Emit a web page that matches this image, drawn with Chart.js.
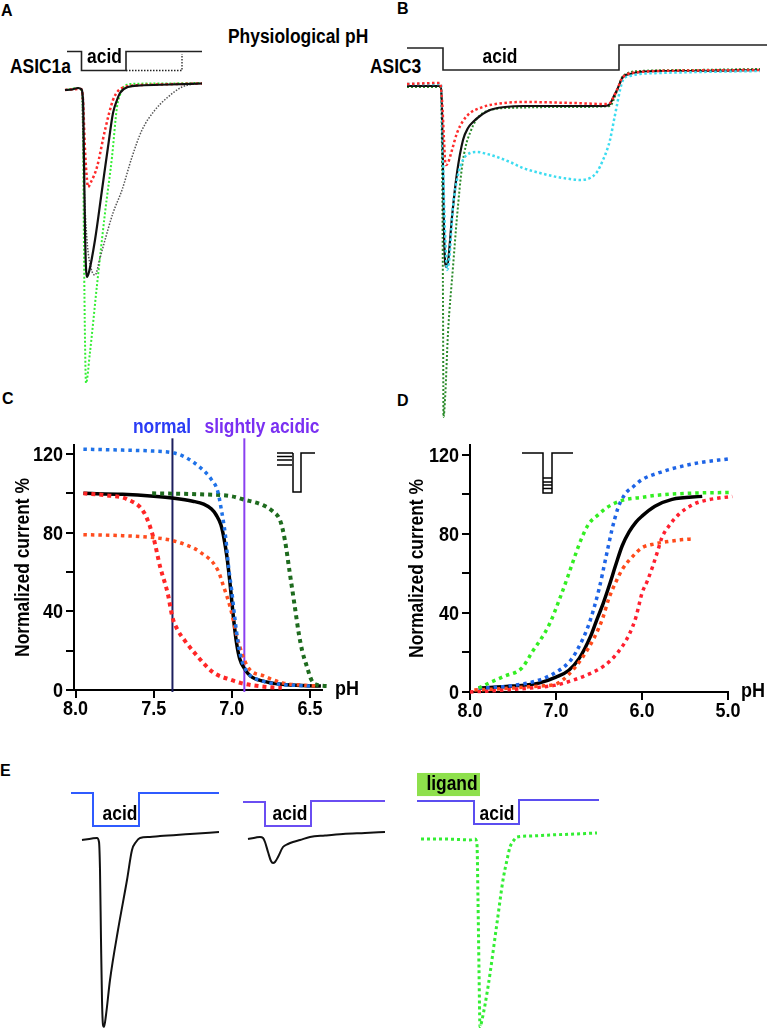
<!DOCTYPE html>
<html>
<head>
<meta charset="utf-8">
<script src="https://cdn.jsdelivr.net/npm/chart.js@4.4.1/dist/chart.umd.min.js"></script>
<style>
  body { margin: 0; background: #fff; width: 767px; height: 1028px; position: relative; overflow: hidden; }
  canvas { position: absolute; }
  .t { position: absolute; color: #000; white-space: nowrap; font-family: "Liberation Sans", Arial, sans-serif;
       font-weight: bold; line-height: 1; transform-origin: 0 0; }
</style>
</head>
<body>
<div class="t" style="left:1px;top:3px;font-size:16px">A</div>
<div class="t" style="left:397px;top:1px;font-size:16px">B</div>
<div class="t" style="left:2px;top:391px;font-size:16px">C</div>
<div class="t" style="left:397px;top:393px;font-size:16px">D</div>
<div class="t" style="left:0px;top:763px;font-size:16px">E</div>
<div class="t" style="left:228px;top:26px;font-size:20px;transform:scaleX(0.87)">Physiological pH</div>
<div class="t" style="left:10px;top:56px;font-size:20px;transform:scaleX(0.87)">ASIC1a</div>
<div class="t" style="left:370px;top:56px;font-size:20px;transform:scaleX(0.87)">ASIC3</div>

<canvas id="cA"></canvas>
<canvas id="cB"></canvas>
<canvas id="cC"></canvas>
<canvas id="cD"></canvas>
<canvas id="cE1"></canvas>
<canvas id="cE2"></canvas>
<canvas id="cE3"></canvas>

<script>
// ---------- A: ASIC1a traces (time s, current nA, stimulus pH) ----------
const aStimT = [0.7, 2.15, 2.15, 6.6, 6.6, 14.2];
const aStimPH = [7.4, 7.4, 6.0, 6.0, 7.4, 7.4];
const aStimDotT = [6.6, 12.2, 12.2];
const aStimDotPH = [6.0, 6.0, 7.22];
const aBlackT = [0.5, 1.2, 1.8, 2.1, 2.3, 2.4, 2.5, 2.6, 2.7, 2.9, 3.5, 4.2, 4.8, 5.3, 5.7, 6.0, 6.8, 8.0, 11.0, 14.2];
const aBlackI = [-0.3, -0.25, -0.1, -0.2, -1.3, -7.3, -14.3, -18.1, -19.0, -18.5, -15.3, -10.3, -6.0, -2.6, -1.3, -0.6, 0, 0.15, 0.25, 0.35];
const aRedT = [0.5, 2.1, 2.3, 2.5, 2.7, 2.8, 3.1, 3.7, 4.5, 5.3, 5.8, 6.2, 7.0, 10.0, 14.2];
const aRedI = [-0.3, -0.2, -1.3, -6.3, -9.3, -10.0, -9.5, -8.0, -4.3, -1.3, -0.4, -0.1, 0.1, 0.25, 0.35];
const aGreenT = [0.5, 1.8, 2.2, 2.3, 2.4, 2.5, 2.6, 3.0, 3.7, 4.5, 5.2, 5.7, 6.0, 6.3, 7.0, 10.0, 14.2];
const aGreenI = [-0.3, -0.1, -0.5, -4.3, -16.3, -25.3, -29.6, -26.5, -19.8, -12.6, -7.0, -2.0, -0.8, -0.1, 0.3, 0.35, 0.4];
const aGrayT = [2.2, 2.4, 2.7, 3.1, 3.5, 4.0, 4.5, 5.3, 6.2, 7.2, 8.2, 9.5, 10.8, 12.2, 13.5, 14.2];
const aGrayI = [-0.5, -9.3, -15.3, -18.1, -18.8, -17.1, -15.3, -12.6, -10.3, -7.0, -4.3, -2.3, -1.0, 0, 0.3, 0.35];

// ---------- B: ASIC3 traces ----------
const bStimT = [1.2, 4.8, 4.8, 22.4, 22.4, 37.2];
const bStimPH = [7.4, 7.4, 6.0, 6.0, 7.59, 7.59];
const bBlackT = [1.2, 4.6, 4.7, 4.8, 4.9, 5.0, 5.1, 5.3, 5.7, 6.2, 6.8, 7.3, 7.8, 8.5, 9.5, 11.0, 12.8, 17.8, 21.0, 21.5, 21.8, 22.2, 22.8, 23.5, 24.5, 26.5, 29.5, 36.5];
const bBlackI = [0, 0, -2.4, -8.4, -14.4, -17.4, -18.1, -17.6, -13.1, -8.7, -5.4, -4.2, -3.6, -3.0, -2.4, -2.1, -2.0, -2.0, -2.0, -1.8, -1.2, -0.4, 0.9, 1.2, 1.4, 1.5, 1.5, 1.6];
const bRedT = [1.2, 4.5, 4.7, 4.9, 5.0, 5.1, 5.3, 5.7, 6.2, 6.8, 7.5, 8.5, 9.5, 12.8, 17.8, 21.0, 21.5, 21.8, 22.2, 22.8, 24.5, 29.5, 36.5];
const bRedI = [0.2, 0.3, -1.4, -5.4, -7.4, -7.9, -7.7, -6.4, -4.7, -3.5, -2.7, -2.2, -1.9, -1.6, -1.7, -1.8, -1.7, -1.2, -0.4, 0.9, 1.4, 1.55, 1.6];
const bGreenT = [1.2, 4.6, 4.7, 4.8, 4.85, 5.0, 5.3, 5.8, 6.2, 6.7, 7.1, 7.5, 8.1, 8.8, 10.0, 11.2, 17.8, 21.5, 21.9, 22.3, 22.8, 24.5, 29.5, 36.5];
const bGreenI = [-0.1, -0.1, -6.4, -21.4, -33.1, -31.4, -24.7, -18.1, -13.1, -8.1, -5.9, -4.7, -3.4, -2.7, -2.3, -2.2, -2.1, -2.0, -1.3, -0.2, 1.0, 1.5, 1.6, 1.7];
const bCyanT = [1.2, 4.6, 4.7, 4.9, 5.1, 5.2, 5.4, 5.8, 6.3, 6.8, 7.5, 8.2, 9.2, 10.2, 11.5, 12.8, 14.5, 16.2, 17.5, 18.5, 19.5, 20.2, 20.8, 21.2, 21.5, 21.9, 22.2, 22.5, 22.8, 23.5, 24.5, 26.5, 30.5, 36.5];
const bCyanI = [0.2, 0.2, -2.4, -11.4, -16.9, -18.4, -17.6, -12.1, -8.9, -7.4, -6.7, -6.6, -6.8, -7.1, -7.6, -8.2, -8.7, -9.1, -9.3, -9.4, -9.2, -8.6, -7.4, -6.4, -5.4, -3.4, -1.9, -0.4, 0.6, 1.0, 1.2, 1.3, 1.4, 1.5];

// ---------- C: steady-state desensitization (pH, % current) ----------
const cTickX = [8.0, 7.5, 7.0, 6.5];
const cTickY = [0, 20, 40, 60, 80, 100, 120];
const cLabelY = [0, 40, 80, 120];
const cNormalPH = 7.38;
const cAcidicPH = 6.92;
const cBluePH = [7.95, 7.7, 7.5, 7.37, 7.3, 7.2, 7.13, 7.09, 7.07, 7.04, 7.02, 7.0, 6.98, 6.96, 6.94, 6.9, 6.8, 6.7, 6.5];
const cBlue = [122.5, 122, 121.5, 120.5, 118.5, 113, 107, 101, 93, 78, 62, 50, 36, 24, 16, 9, 4.5, 3, 2];
const cBlackPH = [7.95, 7.7, 7.5, 7.37, 7.25, 7.18, 7.13, 7.1, 7.07, 7.05, 7.03, 7.01, 6.99, 6.97, 6.95, 6.92, 6.88, 6.8, 6.7, 6.55, 6.43];
const cBlack = [100, 99.5, 98.5, 97.5, 96, 94.5, 92, 89, 84, 77, 67, 53, 37, 24, 16, 11, 7, 4.5, 3, 2.3, 2];
const cGreenPH = [7.51, 7.2, 7.0, 6.93, 6.8, 6.74, 6.69, 6.66, 6.63, 6.6, 6.57, 6.55, 6.52, 6.49, 6.45, 6.39];
const cGreen = [100, 99.5, 98.5, 97, 94, 91, 86, 76, 60, 44, 28, 20, 12, 5, 2.5, 2];
const cRedPH = [7.95, 7.8, 7.67, 7.56, 7.5, 7.46, 7.41, 7.38, 7.35, 7.3, 7.24, 7.12, 7.0, 6.94, 6.77, 6.68];
const cRed = [100, 99, 97, 90, 77, 63, 49, 37, 31, 25, 19, 9, 5, 3.5, 1.5, 1.2];
const cOrangePH = [7.95, 7.7, 7.5, 7.38, 7.3, 7.2, 7.09, 7.05, 7.01, 6.96, 6.9, 6.79, 6.67, 6.55, 6.45];
const cOrange = [79, 78.5, 77.5, 76, 74, 70, 61, 52, 42, 25, 12, 7, 3.5, 2.5, 2];

// ---------- D: activation (pH, % current) ----------
const dTickX = [8.0, 7.0, 6.0, 5.0];
const dTickY = [0, 20, 40, 60, 80, 100, 120];
const dLabelY = [0, 40, 80, 120];
const dGreenPH = [7.9, 7.78, 7.6, 7.4, 7.28, 7.08, 6.95, 6.85, 6.77, 6.7, 6.62, 6.5, 6.42, 6.23, 6.0, 5.84, 5.5, 4.99];
const dGreen = [2, 4.5, 8, 12, 20, 34, 48, 60, 70, 78, 85, 90, 93, 97, 98.5, 99.5, 100.5, 101];
const dBluePH = [7.9, 7.55, 7.2, 7.0, 6.85, 6.77, 6.62, 6.5, 6.42, 6.35, 6.28, 6.2, 6.1, 6.0, 5.8, 5.65, 5.34, 4.99];
const dBlue = [2, 3, 6, 10, 15, 20, 34, 52, 68, 82, 93, 100, 104, 107.5, 111, 113, 116, 118];
const dBlackPH = [7.9, 7.5, 7.2, 7.0, 6.85, 6.73, 6.6, 6.53, 6.45, 6.38, 6.3, 6.23, 6.15, 6.07, 6.0, 5.85, 5.65, 5.3];
const dBlack = [2, 3, 4.5, 7.5, 11, 17, 28, 36, 45, 54, 65, 74, 81, 86, 89, 94, 97.5, 99];
const dOrangePH = [7.95, 7.5, 7.2, 7.0, 6.85, 6.7, 6.55, 6.46, 6.38, 6.3, 6.23, 6.1, 6.0, 5.85, 5.72, 5.55, 5.4];
const dOrange = [1, 2, 3, 4, 9, 17, 28, 37, 48, 56, 62, 69, 73, 75, 76, 77, 77.5];
const dRedPH = [8.0, 7.6, 7.3, 7.0, 6.8, 6.62, 6.45, 6.3, 6.15, 6.07, 6.0, 5.94, 5.88, 5.82, 5.77, 5.67, 5.57, 5.4, 5.26, 4.95];
const dRed = [0, 1, 2, 3.5, 6, 9, 13, 19, 29, 38, 50, 56, 63, 71, 78, 85, 90, 95, 97, 99];

// ---------- E: conditioning / ligand traces ----------
const e1StimT = [1.1, 3.3, 3.3, 7.9, 7.9, 15.9];
const e1StimPH = [7.4, 7.4, 6.0, 6.0, 7.4, 7.4];
const e1T = [2.2, 3.2, 3.7, 3.9, 4.0, 4.1, 4.2, 4.3, 4.4, 4.6, 5.0, 5.8, 6.7, 7.2, 7.6, 8.0, 9.0, 10.0, 13.0, 15.9];
const e1I = [-0.2, -0.05, 0, -0.4, -3.2, -10.2, -16.2, -18.7, -18.9, -17.7, -14.2, -9.2, -4.2, -1.2, -0.4, 0, 0.1, 0.2, 0.4, 0.6];
const e2StimT = [0.8, 3.0, 3.0, 7.6, 7.6, 15.0];
const e2StimPH = [7.02, 7.02, 6.0, 6.0, 7.06, 7.06];
const e2T = [1.3, 2.1, 2.5, 2.8, 3.0, 3.3, 3.6, 3.8, 4.0, 4.3, 4.8, 5.3, 5.8, 6.5, 7.5, 9.0, 10.8, 13.0, 15.0];
const e2I = [-0.1, 0.05, 0.1, 0, -0.4, -1.4, -2.3, -2.5, -2.4, -1.9, -0.9, -0.6, -0.4, -0.2, 0.1, 0.25, 0.4, 0.5, 0.6];
const e3StimT = [0.7, 6.4, 6.4, 10.9, 10.9, 18.9];
const e3StimPH = [7.06, 7.06, 6.08, 6.08, 7.1, 7.1];
const e3LigandT = [0.7, 7.0];
const e3T = [1.1, 3.0, 5.0, 6.0, 6.5, 6.7, 6.8, 6.9, 7.0, 7.2, 7.8, 8.7, 9.3, 9.7, 10.0, 10.4, 10.7, 12.0, 14.0, 16.5, 18.7];
const e3I = [-0.1, -0.1, -0.15, -0.2, -0.1, -0.7, -6.2, -13.2, -18.9, -18.2, -14.9, -8.5, -4.2, -2.2, -0.9, -0.2, 0.1, 0.2, 0.3, 0.4, 0.5];

const K = 0.87; // the figure's lettering is horizontally condensed
const FONT = '"Liberation Sans", Arial, sans-serif';

function txt(ctx, s, x, y, o) {
  o = o || {};
  ctx.save();
  ctx.font = 'bold ' + (o.size || 20) + 'px ' + FONT;
  ctx.fillStyle = o.color || '#000';
  ctx.textBaseline = o.base || 'alphabetic';
  ctx.textAlign = o.align || 'center';
  ctx.translate(x, y);
  if (o.rot) ctx.rotate(o.rot);
  ctx.scale(o.sx || K, 1);
  ctx.fillText(s, 0, 0);
  ctx.restore();
}

function pts(xs, ys) { return xs.map((x, i) => ({ x: x, y: ys[i] })); }

function line(xs, ys, color, w, dash, axis) {
  return {
    data: pts(xs, ys), yAxisID: axis || 'y', borderColor: color, borderWidth: w,
    borderDash: dash || [], pointRadius: 0, fill: false, clip: false,
    cubicInterpolationMode: axis === 'p' ? 'default' : 'monotone', tension: 0
  };
}

function place(id, left, top, w, h) {
  const cv = document.getElementById(id);
  cv.width = w; cv.height = h;
  cv.style.left = left + 'px'; cv.style.top = top + 'px';
  return cv;
}

// current traces: hidden axes, time on x, current on y, pH command on p
function traceChart(id, box, xr, yr, pr, datasets, labels, ligand) {
  const cv = place(id, box[0], box[1], box[2], box[3]);
  new Chart(cv, {
    type: 'line',
    data: { datasets: datasets },
    options: {
      responsive: false, animation: false, devicePixelRatio: 1,
      layout: { padding: 0 },
      plugins: { legend: { display: false }, tooltip: { enabled: false } },
      scales: {
        x: { type: 'linear', display: false, min: xr[0], max: xr[1] },
        y: { type: 'linear', display: false, min: yr[0], max: yr[1] },
        p: { type: 'linear', axis: 'y', display: false, min: pr[0], max: pr[1] }
      }
    },
    plugins: [{
      id: 'notes',
      beforeDatasetsDraw(c) {
        if (!ligand) return;
        const x = c.scales.x, p = c.scales.p, ctx = c.ctx;
        const x0 = x.getPixelForValue(ligand.t[0]), x1 = x.getPixelForValue(ligand.t[1]);
        const y0 = p.getPixelForValue(ligand.p[0]), y1 = p.getPixelForValue(ligand.p[1]);
        ctx.fillStyle = '#8ee04c';
        ctx.fillRect(x0, y0, x1 - x0, y1 - y0);
        txt(ctx, 'ligand', x.getPixelForValue(ligand.tt), p.getPixelForValue(ligand.pt));
      },
      afterDatasetsDraw(c) {
        const x = c.scales.x, p = c.scales.p;
        labels.forEach(l => txt(c.ctx, l.s, x.getPixelForValue(l.t), p.getPixelForValue(l.p)));
      }
    }]
  });
}

// dose-response panels with drawn axes
function doseChart(id, box, pad, yW, xH, xr, yMax, tickX, tickY, labelY, titleX, datasets, extra) {
  const cv = place(id, box[0], box[1], box[2], box[3]);
  const axisStyle = {
    grid: { drawOnChartArea: false, drawTicks: true, tickLength: 8, color: '#000', lineWidth: 2 },
    border: { display: true, color: '#000', width: 2 },
    ticks: { display: false }
  };
  new Chart(cv, {
    type: 'line',
    data: { datasets: datasets },
    options: {
      responsive: false, animation: false, devicePixelRatio: 1,
      layout: { padding: pad },
      plugins: { legend: { display: false }, tooltip: { enabled: false } },
      scales: {
        x: Object.assign({ type: 'linear', reverse: true, min: xr[0], max: xr[1],
          afterBuildTicks: s => { s.ticks = tickX.map(v => ({ value: v })); },
          afterFit: s => { s.height = xH; } }, axisStyle),
        y: Object.assign({ type: 'linear', min: 0, max: yMax,
          afterBuildTicks: s => { s.ticks = tickY.map(v => ({ value: v })); },
          afterFit: s => { s.width = yW; } }, axisStyle)
      }
    },
    plugins: [{
      id: 'axisText',
      afterDraw(c) {
        const ctx = c.ctx, xs = c.scales.x, ys = c.scales.y, a = c.chartArea;
        tickX.forEach(v => txt(ctx, v.toFixed(1), xs.getPixelForValue(v), a.bottom + 25, { sx: 0.9 }));
        labelY.forEach(v => txt(ctx, String(v), a.left - 11, ys.getPixelForValue(v) + 7, { align: 'right', sx: 0.9 }));
        txt(ctx, 'Normalized current %', titleX, (a.top + a.bottom) / 2, { rot: -Math.PI / 2, base: 'middle' });
        txt(ctx, 'pH', a.right + 13, a.bottom + 5, { align: 'left', sx: 0.9 });
        extra(c);
      }
    }]
  });
}

function stroke(ctx, segs, w) {
  ctx.save();
  ctx.strokeStyle = '#000'; ctx.lineWidth = w || 1.5;
  segs.forEach(s => {
    ctx.beginPath(); ctx.moveTo(s[0], s[1]);
    for (let i = 2; i < s.length; i += 2) ctx.lineTo(s[i], s[i + 1]);
    ctx.stroke();
  });
  ctx.restore();
}

// ---- A ----
traceChart('cA', [60, 40, 150, 360], [0, 15], [-31.3, 4.7], [-18.279, 8.2474], [
  line(aStimT, aStimPH, '#222', 1.6, [], 'p'),
  line(aStimDotT, aStimDotPH, '#222', 1.3, [1.5, 1.5], 'p'),
  line(aBlackT, aBlackI, '#111', 2.2),
  line(aRedT, aRedI, '#ff2a2a', 2.5, [2.5, 2.5]),
  line(aGrayT, aGrayI, '#555', 1.5, [1.5, 1.5]),
  line(aGreenT, aGreenI, '#33ee33', 2, [2, 2])
], [{ s: 'acid', t: 4.45, p: 6.53 }]);

// ---- B ----
traceChart('cB', [395, 30, 372, 400], [0, 37.2], [-34.4, 5.6], [-16.909, 8.5455], [
  line(bStimT, bStimPH, '#222', 1.6, [], 'p'),
  line(bRedT, bRedI, '#ff2b2b', 2.5, [2.5, 2.5]),
  line(bCyanT, bCyanI, '#3cdcf0', 2.5, [2.5, 2.5]),
  line(bBlackT, bBlackI, '#111', 2.2),
  line(bGreenT, bGreenI, '#2a8a2a', 2, [2, 2])
], [{ s: 'acid', t: 10.5, p: 6.445 }]);

// ---- C ----
doseChart('cC', [0, 400, 390, 330], { left: 0, top: 45, right: 68, bottom: 0 }, 74, 40,
  [6.423, 8.01], 124.6, cTickX, cTickY, cLabelY, 23, [
  line(cBluePH, cBlue, '#1f72e8', 3.5, [3.5, 4]),
  line(cOrangePH, cOrange, '#ff4d1f', 3.5, [3.5, 4]),
  line(cRedPH, cRed, '#ff2626', 4, [4, 4]),
  line(cGreenPH, cGreen, '#1e6b1e', 4, [4, 4]),
  line(cBlackPH, cBlack, '#000', 3.5),
  line([cNormalPH, cNormalPH], [-1, 128], '#1c1f5e', 2),
  line([cAcidicPH, cAcidicPH], [-1, 128], '#8a40f0', 2)
], c => {
  const ctx = c.ctx, xs = c.scales.x, a = c.chartArea;
  txt(ctx, 'normal', xs.getPixelForValue(7.447), a.top - 12, { color: '#2a3cf5' });
  txt(ctx, 'slightly acidic', xs.getPixelForValue(6.807), a.top - 12, { color: '#7a30f2' });
  const L = a.left, T = a.top;
  stroke(ctx, [
    [L + 203, T + 8, L + 219, T + 8], [L + 203, T + 11.5, L + 218, T + 11.5],
    [L + 203, T + 15, L + 218, T + 15], [L + 203, T + 20, L + 218, T + 20],
    [L + 219, T + 8, L + 219, T + 47, L + 227, T + 47, L + 227, T + 8, L + 241, T + 8]
  ]);
});

// ---- D ----
doseChart('cD', [390, 400, 377, 330], { left: 0, top: 45, right: 39, bottom: 0 }, 80, 38,
  [5.0, 8.0], 125, dTickX, dTickY, dLabelY, 27, [
  line(dGreenPH, dGreen, '#33ee22', 3.5, [3.5, 4]),
  line(dBluePH, dBlue, '#1e64e6', 3.5, [3.5, 4]),
  line(dOrangePH, dOrange, '#ff4a1a', 3.5, [3.5, 4]),
  line(dRedPH, dRed, '#ff1f2f', 3.5, [3.5, 4]),
  line(dBlackPH, dBlack, '#000', 3.5)
], c => {
  const ctx = c.ctx, a = c.chartArea, L = a.left, T = a.top;
  stroke(ctx, [
    [L + 52, T + 8, L + 73, T + 8, L + 73, T + 48, L + 82, T + 48, L + 82, T + 8, L + 103, T + 8],
    [L + 73, T + 33, L + 82, T + 33], [L + 73, T + 37, L + 82, T + 37],
    [L + 73, T + 40, L + 82, T + 40], [L + 73, T + 43.5, L + 82, T + 43.5]
  ]);
});

// ---- E ----
const eY = [-19.0, 6.8], eP = [-2.5697, 8.3758];
traceChart('cE1', [60, 770, 170, 258], [0, 17], eY, eP, [
  line(e1StimT, e1StimPH, '#2f5bff', 2, [], 'p'),
  line(e1T, e1I, '#111', 2)
], [{ s: 'acid', t: 6.0, p: 6.26 }]);
traceChart('cE2', [235, 770, 160, 258], [0, 16], eY, eP, [
  line(e2StimT, e2StimPH, '#6a4ef2', 2, [], 'p'),
  line(e2T, e2I, '#111', 2)
], [{ s: 'acid', t: 5.5, p: 6.26 }]);
traceChart('cE3', [410, 770, 200, 258], [0, 20], eY, eP, [
  line(e3StimT, e3StimPH, '#5b4ef0', 2, [], 'p'),
  line(e3T, e3I, '#33ee33', 3, [3, 3])
], [{ s: 'acid', t: 8.7, p: 6.26 }],
  { t: e3LigandT, p: [8.25, 7.27], tt: 4.2, pt: 7.53 });
</script>
</body>
</html>
